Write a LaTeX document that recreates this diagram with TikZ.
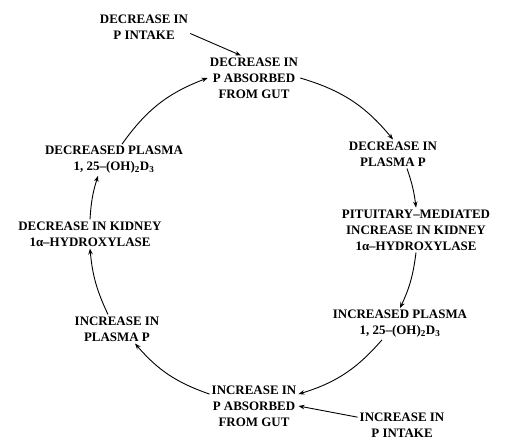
\documentclass[tikz,border=0pt]{standalone}
\usepackage{fontspec}
\setmainfont{Liberation Serif}
\usetikzlibrary{arrows.meta}

\tikzset{
  box/.style={align=center, inner sep=2bp, font=\bfseries\fontsize{13}{16}\selectfont},
  arr/.style={line width=0.9bp, -{Stealth[length=6bp,width=4.5bp]}}
}

\begin{document}
\begin{tikzpicture}[x=1bp,y=-1bp]
\useasboundingbox (0,0) rectangle (505,441);

% the loop for low P intake (top) and high P intake (bottom)
\node[box] (dpi) at (144,27)  {DECREASE IN\\P INTAKE};
\node[box] (top) at (254,78)  {DECREASE IN\\P ABSORBED\\FROM GUT};
\node[box] (dpp) at (393,154) {DECREASE IN\\PLASMA P};
\node[box] (pit) at (416,230) {PITUITARY--MEDIATED\\INCREASE IN KIDNEY\\1α--HYDROXYLASE};
\node[box] (ipl) at (400,324) {INCREASED PLASMA\\1, 25--(OH)\textsubscript{2}D\textsubscript{3}};
\node[box] (bot) at (254,406) {INCREASE IN\\P ABSORBED\\FROM GUT};
\node[box] (ipi) at (402,425) {INCREASE IN\\P INTAKE};
\node[box] (ipp) at (117,329) {INCREASE IN\\PLASMA P};
\node[box] (dkh) at (90,234)  {DECREASE IN KIDNEY\\1α--HYDROXYLASE};
\node[box] (dpl) at (114,160) {DECREASED PLASMA\\1, 25--(OH)\textsubscript{2}D\textsubscript{3}};

\draw[arr] (dpi.-8) -- (top.120);
\draw[arr] (top.east) to[bend left=17] (dpp.north);
\draw[arr] ([xshift=14bp]dpp.south) to[bend left=6] (pit.north);
\draw[arr] (pit.south) to[bend left=9] (ipl.north);
\draw[arr] ([xshift=-18bp]ipl.south) to[bend left=16] (bot.15);
\draw[arr] (ipi.170) -- (bot.east);
\draw[arr] (bot.165) to[bend left=15] ([xshift=18bp]ipp.south);
\draw[arr] ([xshift=-9bp]ipp.north) to[bend left=10] (dkh.south);
\draw[arr] (dkh.north) to[bend left=7] ([xshift=-16bp]dpl.south);
\draw[arr] ([xshift=8bp]dpl.north) to[bend left=17] (top.west);
\end{tikzpicture}
\end{document}
